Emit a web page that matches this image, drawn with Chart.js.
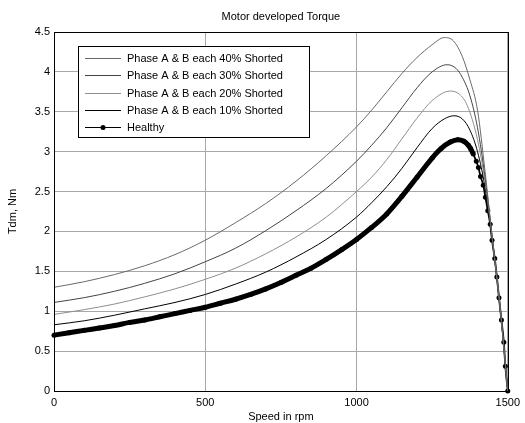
<!DOCTYPE html>
<html>
<head>
<meta charset="utf-8">
<script src="https://cdn.jsdelivr.net/npm/chart.js@4.4.1/dist/chart.umd.min.js"></script>
<style>
  html, body { margin: 0; padding: 0; background: #fff; }
  canvas { display: block; }
</style>
</head>
<body>
<canvas id="chartTorque" width="525" height="423"></canvas>
<script>
// Datos (velocidad en rpm, par en Nm)
const etiquetas = [
  "Phase A & B each 40% Shorted",
  "Phase A & B each 30% Shorted",
  "Phase A & B each 20% Shorted",
  "Phase A & B each 10% Shorted",
  "Healthy"
];

const velocidad40 = [0, 100, 200, 300, 400, 500, 600, 700, 800, 900, 1000, 1050, 1100, 1150, 1200, 1250, 1290, 1320, 1350, 1375, 1400, 1425, 1450, 1475, 1500];
const torque40 = [1.30, 1.37, 1.46, 1.57, 1.71, 1.89, 2.11, 2.35, 2.63, 2.95, 3.31, 3.52, 3.75, 3.98, 4.18, 4.34, 4.43, 4.39, 4.19, 3.90, 3.52, 2.75, 1.88, 1.04, 0];

const velocidad30 = [0, 100, 200, 300, 400, 500, 600, 700, 800, 900, 1000, 1050, 1100, 1150, 1200, 1250, 1300, 1330, 1350, 1375, 1400, 1425, 1450, 1475, 1500];
const torque30 = [1.11, 1.17, 1.25, 1.35, 1.47, 1.62, 1.79, 2.01, 2.26, 2.54, 2.88, 3.08, 3.30, 3.55, 3.80, 4.00, 4.09, 4.04, 3.93, 3.70, 3.30, 2.68, 1.88, 1.04, 0];

const velocidad20 = [0, 100, 200, 300, 400, 500, 600, 700, 800, 900, 1000, 1050, 1100, 1150, 1200, 1250, 1310, 1340, 1366, 1400, 1425, 1450, 1475, 1500];
const torque20 = [0.96, 1.02, 1.09, 1.18, 1.28, 1.40, 1.54, 1.72, 1.93, 2.18, 2.50, 2.68, 2.90, 3.16, 3.42, 3.64, 3.76, 3.72, 3.58, 3.15, 2.62, 1.87, 1.03, 0];

const velocidad10 = [0, 100, 200, 300, 400, 500, 600, 700, 800, 900, 1000, 1050, 1100, 1150, 1200, 1250, 1290, 1322, 1350, 1375, 1400, 1425, 1450, 1475, 1500];
const torque10 = [0.83, 0.88, 0.95, 1.03, 1.11, 1.21, 1.34, 1.49, 1.68, 1.90, 2.18, 2.36, 2.56, 2.79, 3.05, 3.29, 3.41, 3.45, 3.41, 3.27, 3.00, 2.55, 1.86, 1.02, 0];

const velocidadSano = [0, 50, 100, 150, 200, 250, 300, 350, 400, 450, 500, 550, 600, 650, 700, 750, 800, 850, 900, 950, 1000, 1050, 1100, 1150, 1200, 1250, 1280, 1310, 1335, 1355, 1370, 1377, 1386, 1396, 1403, 1410, 1419, 1426, 1434, 1442, 1448, 1457, 1464, 1471, 1479, 1487, 1492, 1500];
const torqueSano = [0.70, 0.73, 0.76, 0.79, 0.82, 0.86, 0.89, 0.93, 0.97, 1.01, 1.05, 1.10, 1.15, 1.21, 1.28, 1.36, 1.45, 1.54, 1.65, 1.77, 1.90, 2.05, 2.22, 2.44, 2.68, 2.92, 3.04, 3.12, 3.15, 3.13, 3.08, 3.04, 2.97, 2.88, 2.80, 2.69, 2.58, 2.43, 2.26, 2.09, 1.89, 1.66, 1.43, 1.17, 0.89, 0.61, 0.31, 0];

const ticksX = [0, 500, 1000, 1500];
const ticksY = [0, 0.5, 1, 1.5, 2, 2.5, 3, 3.5, 4, 4.5];

const fuente = '"Liberation Sans", Arial, sans-serif';

// Convertir pares de arrays a puntos {x, y}
function puntos(xs, ys) {
  return xs.map((x, i) => ({ x: x, y: ys[i] }));
}

// Plugin para el marco, los textos y la leyenda estilo MATLAB
const marcoMatlab = {
  id: "marcoMatlab",
  afterDraw(chart) {
    const ctx = chart.ctx;
    const area = chart.chartArea;
    ctx.save();

    // Marco negro alrededor del área
    ctx.strokeStyle = "#000";
    ctx.lineWidth = 1;
    ctx.strokeRect(Math.round(area.left) + 0.5, Math.round(area.top) + 0.5,
      Math.round(area.right - area.left), Math.round(area.bottom - area.top));

    // Título y etiquetas de los ejes
    ctx.fillStyle = "#000";
    ctx.font = "11px " + fuente;
    ctx.textAlign = "center";
    ctx.textBaseline = "middle";
    ctx.fillText("Motor developed Torque", (area.left + area.right) / 2, 17);
    ctx.fillText("Speed in rpm", (area.left + area.right) / 2, 417);
    ctx.save();
    ctx.translate(13, (area.top + area.bottom) / 2);
    ctx.rotate(-Math.PI / 2);
    ctx.fillText("Tdm, Nm", 0, 0);
    ctx.restore();

    // Leyenda dentro del área
    const cajaX = 78.5, cajaY = 46.5, cajaW = 231, cajaH = 91;
    ctx.fillStyle = "#fff";
    ctx.fillRect(cajaX, cajaY, cajaW, cajaH);
    ctx.strokeStyle = "#000";
    ctx.strokeRect(cajaX, cajaY, cajaW, cajaH);
    ctx.textAlign = "left";
    chart.data.datasets.forEach((ds, i) => {
      const y = Math.round(58 + i * 17.3) + 0.5;
      ctx.strokeStyle = ds.borderColor;
      ctx.lineWidth = 1;
      ctx.beginPath();
      ctx.moveTo(85, y);
      ctx.lineTo(121, y);
      ctx.stroke();
      if (ds.pointRadius > 0) {
        ctx.fillStyle = "#000";
        ctx.beginPath();
        ctx.arc(103, y, 2.5, 0, Math.PI * 2);
        ctx.fill();
      }
      ctx.fillStyle = "#000";
      ctx.fillText(ds.label, 127, y);
    });
    ctx.restore();
  }
};

let chartTorque;

document.addEventListener("DOMContentLoaded", () => {
  const ctxTorque = document.getElementById("chartTorque").getContext("2d");

  const lineaFina = (etiqueta, xs, ys, color) => ({
    label: etiqueta,
    data: puntos(xs, ys),
    borderColor: color,
    borderWidth: 1,
    pointRadius: 0,
    cubicInterpolationMode: "monotone",
    fill: false,
  });

  chartTorque = new Chart(ctxTorque, {
    type: "line",
    data: {
      datasets: [
        lineaFina(etiquetas[0], velocidad40, torque40, "#6a6a6a"),
        lineaFina(etiquetas[1], velocidad30, torque30, "#444444"),
        lineaFina(etiquetas[2], velocidad20, torque20, "#8e8e8e"),
        lineaFina(etiquetas[3], velocidad10, torque10, "#000000"),
        {
          label: etiquetas[4],
          data: puntos(velocidadSano, torqueSano),
          borderColor: "#000000",
          backgroundColor: "#000000",
          borderWidth: 1.5,
          pointRadius: 2.5,
          pointBorderWidth: 0,
          pointBackgroundColor: "#000000",
          cubicInterpolationMode: "monotone",
          clip: false,
          fill: false,
          // Tramo grueso donde los marcadores se solapan
          segment: {
            borderWidth: (c) => (c.p0.parsed.x < 1380 ? 5 : 1.8),
          },
        },
      ],
    },
    options: {
      responsive: false,
      animation: false,
      devicePixelRatio: 1,
      layout: { padding: { top: 32, right: 14, left: 0, bottom: 0 } },
      plugins: {
        legend: { display: false },
        title: { display: false },
        tooltip: { enabled: false },
      },
      scales: {
        x: {
          type: "linear",
          min: 0,
          max: 1500,
          afterBuildTicks: (s) => { s.ticks = ticksX.map((v) => ({ value: v })); },
          afterFit: (s) => { s.height = 32; },
          ticks: {
            color: "#000",
            font: { family: fuente, size: 11 },
            padding: 5,
            maxRotation: 0,
            callback: (v) => String(v),
          },
          grid: { color: "#a8a8a8", lineWidth: 1, drawTicks: false },
          border: { color: "#000", width: 1 },
        },
        y: {
          type: "linear",
          min: 0,
          max: 4.5,
          afterBuildTicks: (s) => { s.ticks = ticksY.map((v) => ({ value: v })); },
          afterFit: (s) => { s.width = 54; },
          ticks: {
            color: "#000",
            font: { family: fuente, size: 11 },
            padding: 4,
            callback: (v) => String(v),
          },
          grid: { color: "#a8a8a8", lineWidth: 1, drawTicks: false },
          border: { color: "#000", width: 1 },
        },
      },
    },
    plugins: [marcoMatlab],
  });
});
</script>
</body>
</html>
